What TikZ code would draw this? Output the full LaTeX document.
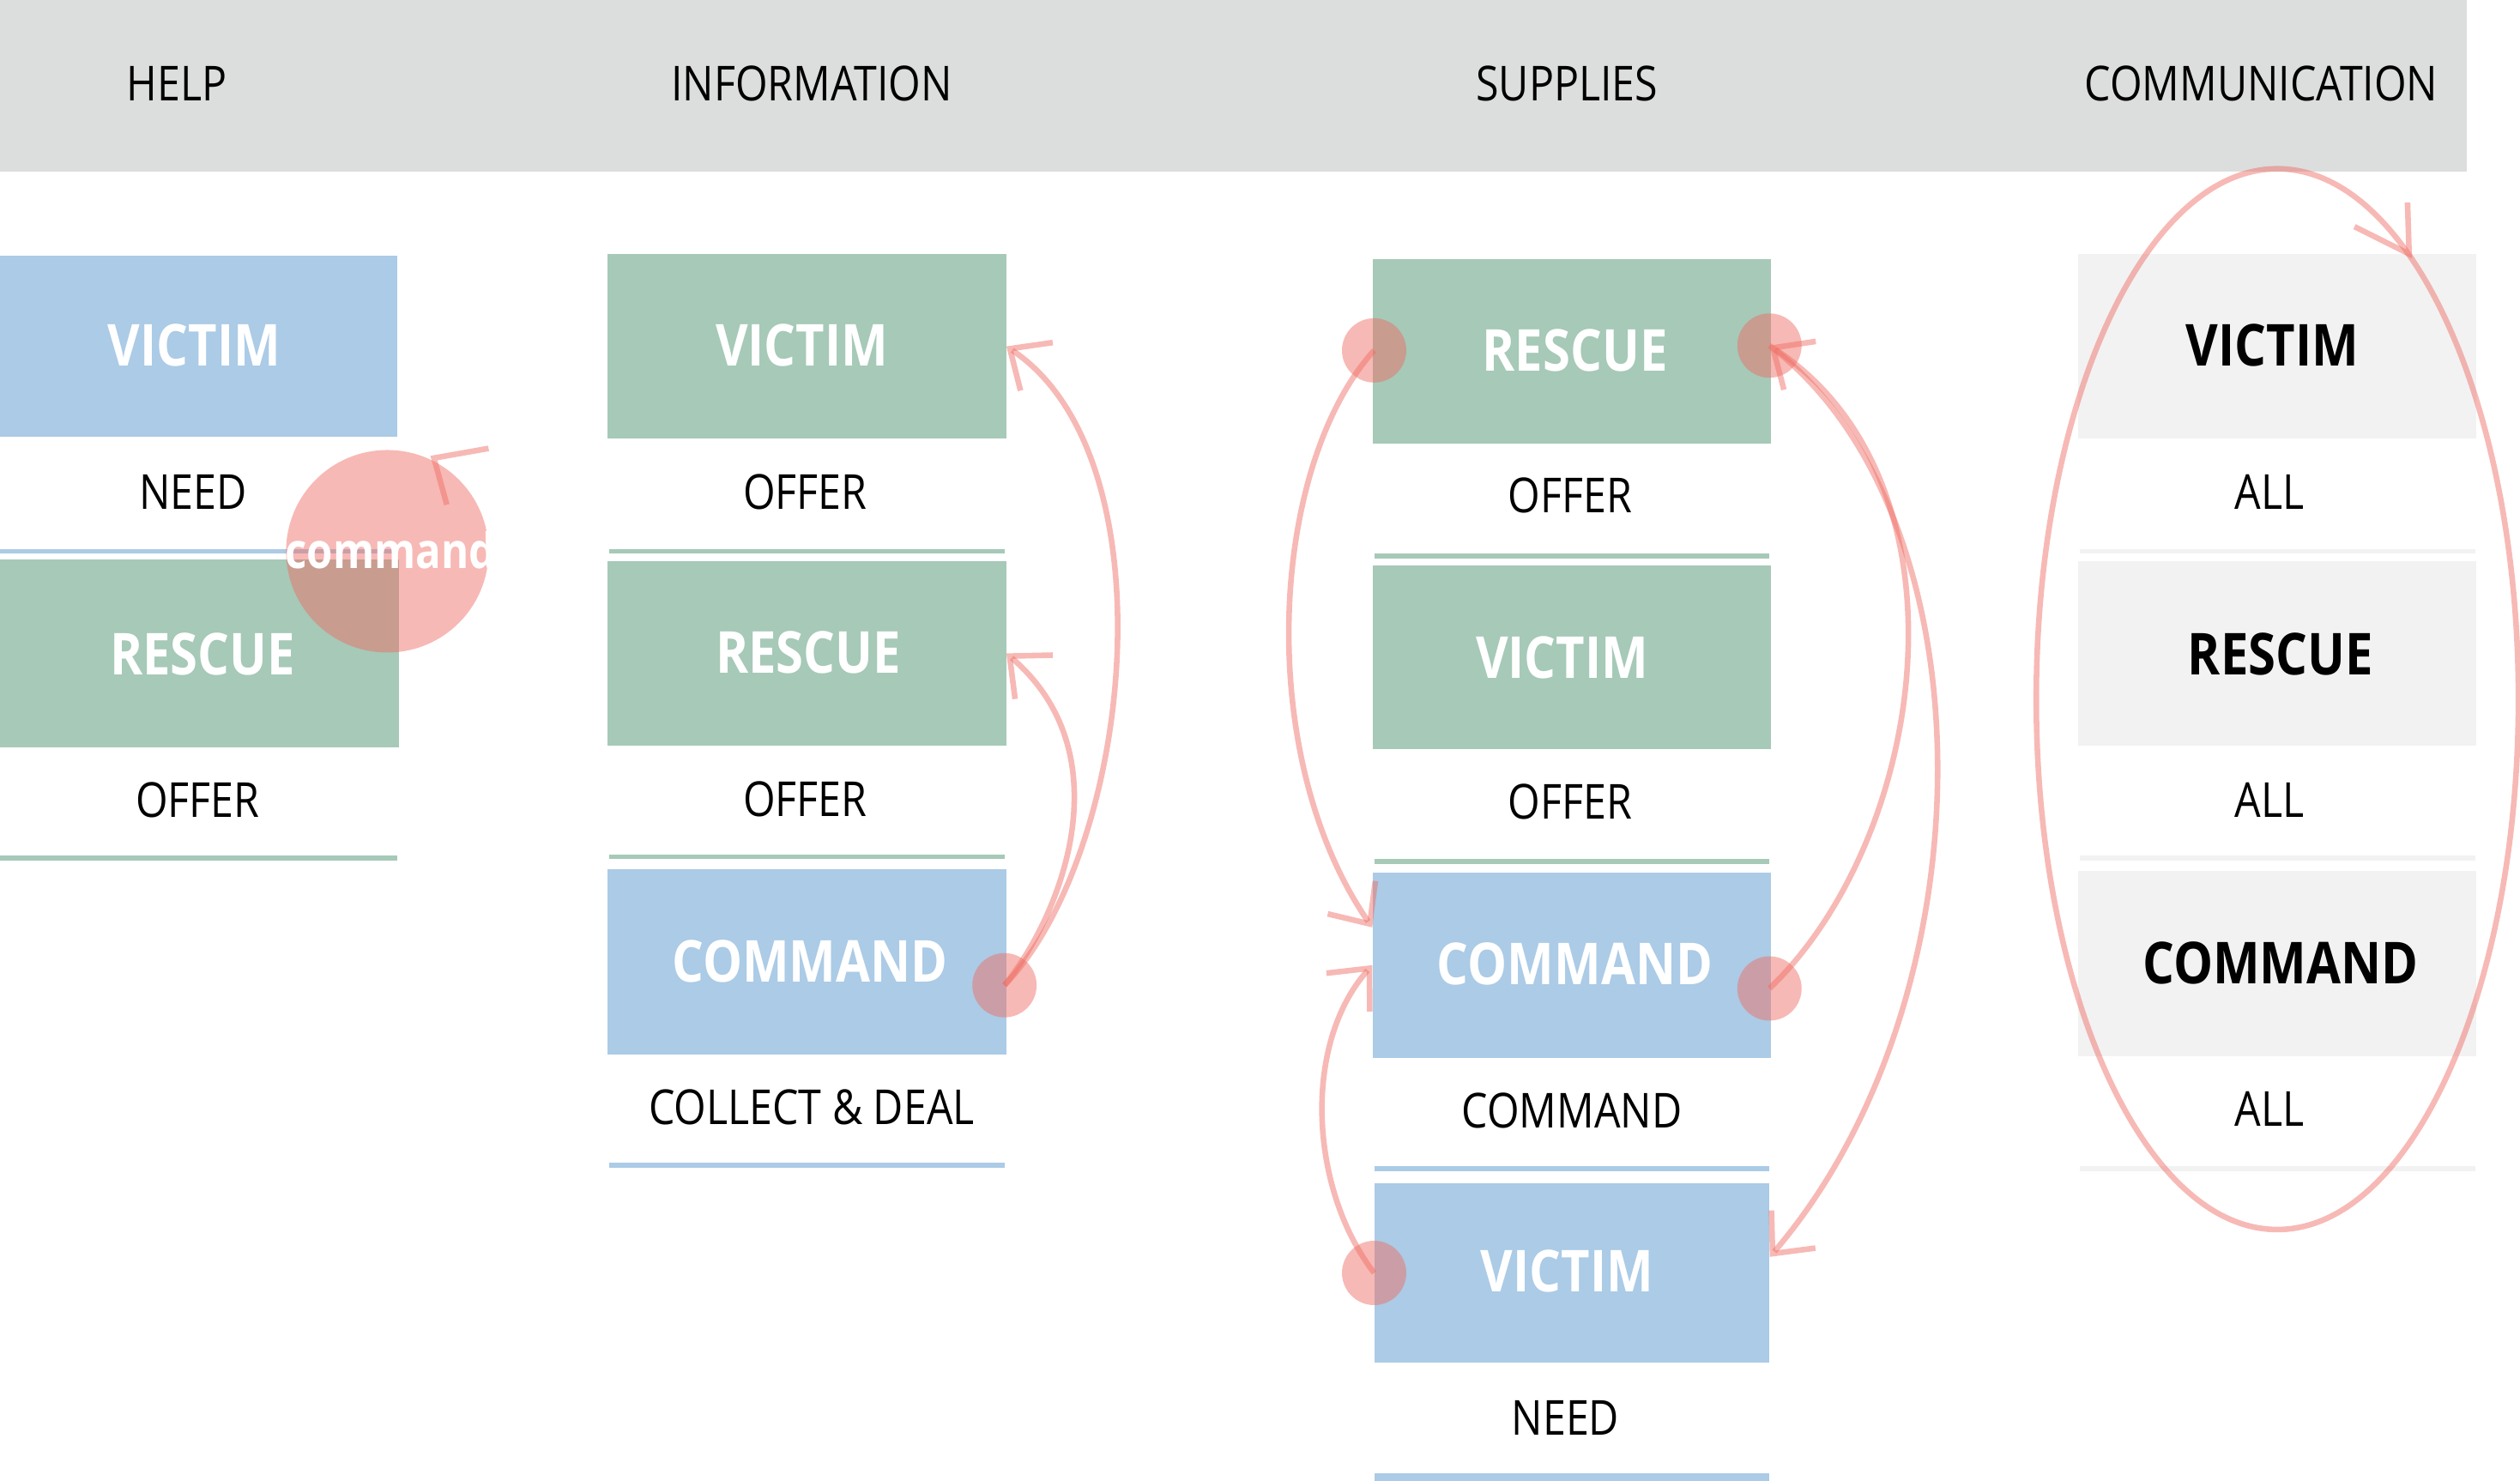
\documentclass[tikz,border=0pt]{standalone}
\usepackage{fontspec}
\setmainfont{Open Sans}[FakeStretch=0.86]
\usetikzlibrary{arrows.meta,shapes.geometric}
\definecolor{hdr}{RGB}{220,222,221}
\definecolor{cblue}{RGB}{171,203,230}
\definecolor{cgreen}{RGB}{166,201,184}
\definecolor{cgray}{RGB}{242,242,242}
\definecolor{cpink}{RGB}{238,109,100}
\tikzset{
 box/.style={rectangle, inner sep=0pt, minimum width=248pt, minimum height=115pt},
 wlbl/.style={text=white, font=\fontsize{36}{40}\selectfont\bfseries, inner sep=0pt},
 blbl/.style={text=black, font=\fontsize{36}{40}\selectfont\bfseries, inner sep=0pt},
 txt/.style={text=black, font=\fontsize{30}{34}\selectfont, inner sep=0pt},
 dot/.style={circle, fill=cpink, fill opacity=0.48, minimum size=40pt, inner sep=0pt},
 link/.style={draw=cpink, draw opacity=0.48, line width=3.5pt, -{Straight Barb[length=20pt,width=36pt]}},
 barbs/.style={draw=cpink, draw opacity=0.48, line width=3.5pt},
}
\begin{document}
\begin{tikzpicture}[x=1pt,y=-1pt]
\useasboundingbox (0,0) rectangle (1568,921.2);
% header
\fill[hdr] (0,0) rectangle (1535,107);
\node[txt] (hHelp) at (110,52) {HELP};
\node[txt] (hInfo) at (505,52) {INFORMATION};
\node[txt] (hSup) at (975,52) {SUPPLIES};
\node[txt] (hCom) at (1407,52) {COMMUNICATION};

% ---- column 1: HELP
\node[box, fill=cblue, minimum width=247pt, minimum height=113pt] (aV) at (123.5,215.5) {};
\node[wlbl] (aVl) at (121,215) {VICTIM};
\node[txt] (aVt) at (120,306) {NEED};
\fill[cblue] (0,341.5) rectangle (247,344.5);
\node[box, fill=cgreen, minimum height=117pt] (aR) at (124,406.5) {};
\node[wlbl] (aRl) at (126,407) {RESCUE};
\node[txt] (aRt) at (123,498) {OFFER};
\fill[cgreen] (0,532.5) rectangle (247,535.5);

% ---- column 2: INFORMATION
\node[box, fill=cgreen] (bV) at (502,215.5) {};
\node[wlbl] (bVl) at (499,215) {VICTIM};
\node[txt] (bVt) at (501,306) {OFFER};
\fill[cgreen] (379,341.5) rectangle (625,344.5);
\node[box, fill=cgreen] (bR) at (502,406.5) {};
\node[wlbl] (bRl) at (503,406) {RESCUE};
\node[txt] (bRt) at (501,497) {OFFER};
\fill[cgreen] (379,531.5) rectangle (625,534.5);
\node[box, fill=cblue] (bC) at (502,598.5) {};
\node[wlbl] (bCl) at (504,598) {COMMAND};
\node[txt] (bCt) at (505,689) {COLLECT \& DEAL};
\fill[cblue] (379,723.5) rectangle (625,726.5);

% ---- column 3: SUPPLIES
\node[box, fill=cgreen] (cR) at (978,218.5) {};
\node[wlbl] (cRl) at (980,218) {RESCUE};
\node[txt] (cRt) at (977,308) {OFFER};
\fill[cgreen] (855,344.5) rectangle (1101,347.5);
\node[box, fill=cgreen, minimum height=114pt] (cV) at (978,409) {};
\node[wlbl] (cVl) at (972,409) {VICTIM};
\node[txt] (cVt) at (977,499) {OFFER};
\fill[cgreen] (855,534.5) rectangle (1101,537.5);
\node[box, fill=cblue] (cC) at (978,600.5) {};
\node[wlbl] (cCl) at (980,600) {COMMAND};
\node[txt] (cCt) at (978,691) {COMMAND};
\fill[cblue] (855,725.5) rectangle (1101,728.5);
\node[box, fill=cblue, minimum width=246pt, minimum height=112pt] (cN) at (978,792) {};
\node[wlbl] (cNl) at (975,791) {VICTIM};
\node[txt] (cNt) at (974,882) {NEED};
\fill[cblue] (855,916.5) rectangle (1101,921.2);

% ---- column 4: COMMUNICATION
\node[box, fill=cgray] (dV) at (1417,215.5) {};
\node[blbl] (dVl) at (1414,215) {VICTIM};
\node[txt] (dVt) at (1412,306) {ALL};
\fill[cgray] (1294,341.5) rectangle (1540,344.5);
\node[box, fill=cgray] (dR) at (1417,406.5) {};
\node[blbl] (dRl) at (1419,407) {RESCUE};
\node[txt] (dRt) at (1412,498) {ALL};
\fill[cgray] (1294,532.5) rectangle (1540,535.5);
\node[box, fill=cgray] (dC) at (1417,599.5) {};
\node[blbl] (dCl) at (1419,599) {COMMAND};
\node[txt] (dCt) at (1412,690) {ALL};
\fill[cgray] (1294,725.5) rectangle (1540,728.5);

% ---- dots
\node[dot] (p1) at (625,613) {};
\node[dot] (p2) at (855,218) {};
\node[dot] (p3) at (1101,215) {};
\node[dot] (p4) at (1101,615) {};
\node[dot] (p5) at (855,792) {};

% ---- connectors column 2
\draw[link] (p1.center) .. controls (705,530) and (730,285) .. (bV.east);
\draw[link] (p1.center) .. controls (660,570) and (700,470) .. (bR.east);

% ---- connectors column 3
\draw[link] (p2.center) .. controls (790,290) and (780,470) .. ([yshift=23.5pt]cC.west);
\draw[link] (p5.center) .. controls (815,740) and (810,650) .. (cC.west);
\draw[link] (p4.center) .. controls (1200,520) and (1230,300) .. (p3.center);
\draw[link] (p3.center) .. controls (1240,320) and (1240,620) .. ([yshift=10pt]cN.east);

% ---- column 4 loop
\node[ellipse, draw=cpink, draw opacity=0.48, line width=3.5pt, minimum width=300pt, minimum height=660pt, inner sep=0pt] (loop) at (1417,435) {};
\coordinate (loopTip) at (1499,158);
\draw[barbs] (1498,126) -- (loopTip) -- (1465,141);

% ---- column 1 command circle
\begin{scope}
\clip (0,0) rectangle (305,921);
\node[circle, fill=cpink, fill opacity=0.48, minimum size=126pt, inner sep=0pt] (cmd) at (241,343) {};
\node[text=white, font=\fontsize{30.5}{34}\selectfont\bfseries, inner sep=0pt] (cmdl) at (243,342) {command};
\end{scope}
\coordinate (cmdTip) at (270,285);
\draw[barbs] (304,279) -- (cmdTip) -- (278,314);
\end{tikzpicture}
\end{document}
